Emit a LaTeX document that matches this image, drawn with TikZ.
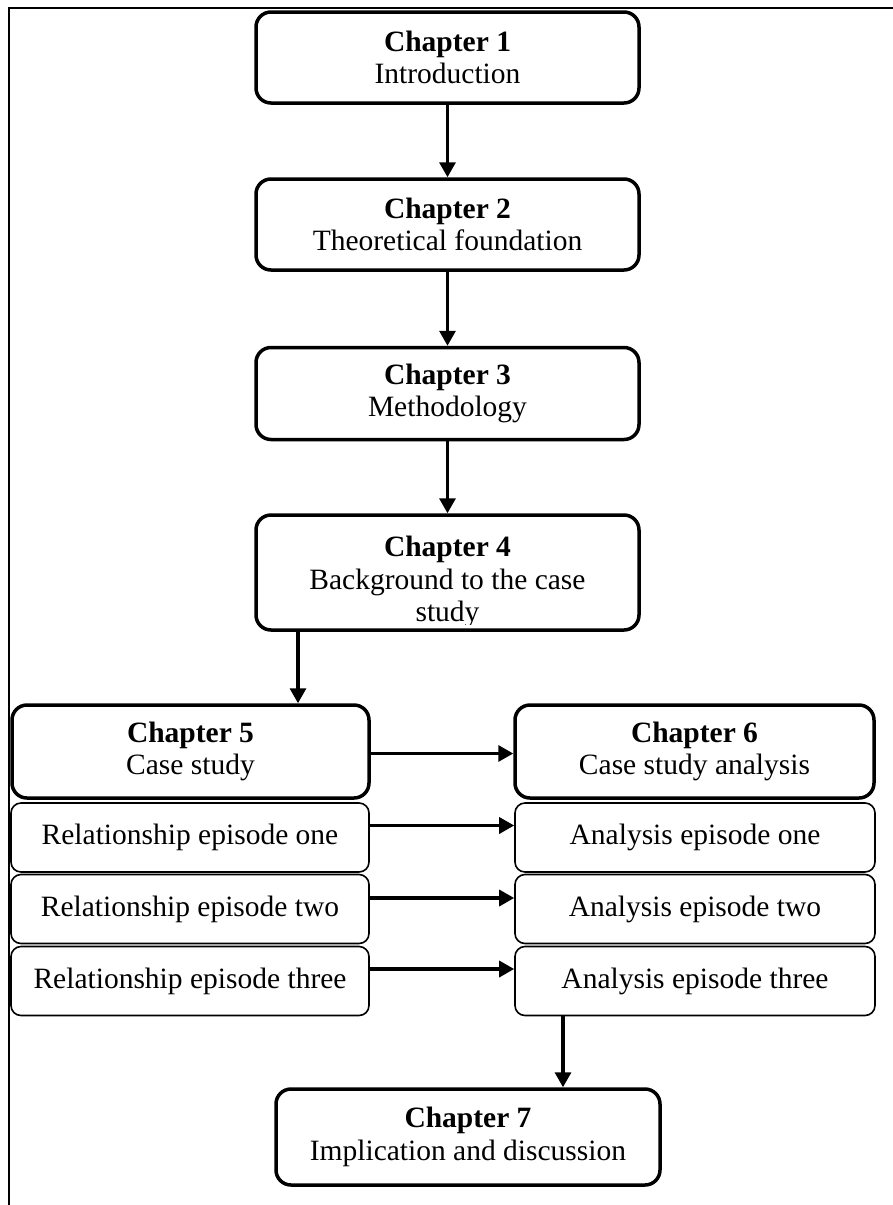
\documentclass[tikz,border=0pt]{standalone}
\usepackage{fontspec}
\setmainfont{Liberation Serif}
\usetikzlibrary{arrows.meta}
\tikzset{
  chbox/.style={draw, line width=3.5pt, rounded corners=15pt, align=center,
    inner sep=0pt, minimum width=383pt, minimum height=92pt,
    font=\fontsize{29.5}{32.5}\selectfont},
  epbox/.style={draw, line width=1.6pt, rounded corners=10pt, align=center,
    inner sep=0pt, minimum width=358pt, minimum height=69pt,
    font=\fontsize{29.5}{32.5}\selectfont},
  arr/.style={line width=3.3pt, -{Triangle[length=15pt,width=16pt]}},
  frameline/.style={line width=1.3pt}
}
\begin{document}
\begin{tikzpicture}[x=1pt, y=-1pt]
\useasboundingbox (0,0) rectangle (893,1205);

% page frame (left and top rules)
\coordinate (fb) at (9,1205);
\coordinate (fc) at (9,8);
\coordinate (fr) at (893,8);
\draw[frameline] (fb) -- (fc) -- (fr);

% main chain of chapters
\node[chbox, minimum height=91pt] (c1) at (447.5,57.5) {\textbf{Chapter 1}\\Introduction};
\node[chbox, minimum height=91pt] (c2) at (447.5,224.5) {\textbf{Chapter 2}\\Theoretical foundation};
\node[chbox] (c3) at (447.5,393.5) {\textbf{Chapter 3}\\Methodology};
\node[chbox, minimum height=115pt] (c4) at (447.5,572.5) {};
\begin{scope}
  \clip (254,513) rectangle (641,624);
  \node[anchor=base, align=center, inner sep=0pt,
        font=\fontsize{29.5}{32.5}\selectfont] (c4t) at (447.5,621.5)
        {\textbf{Chapter 4}\\Background to the case\\study};
\end{scope}

% case study column
\node[chbox, minimum width=357pt, minimum height=93pt] (c5) at (190.5,751.5) {\textbf{Chapter 5}\\Case study};
\node[epbox] (r1) at (190,837.5) {Relationship episode one};
\node[epbox] (r2) at (190,909) {Relationship episode two};
\node[epbox] (r3) at (190,981) {Relationship episode three};

% analysis column
\node[chbox, minimum width=359pt, minimum height=93pt] (c6) at (694.5,751.5) {\textbf{Chapter 6}\\Case study analysis};
\node[epbox, minimum width=360pt] (a1) at (695,837.5) {Analysis episode one};
\node[epbox, minimum width=360pt] (a2) at (695,909) {Analysis episode two};
\node[epbox, minimum width=360pt] (a3) at (695,981) {Analysis episode three};

% closing chapter
\node[chbox, minimum width=384pt, minimum height=96pt] (c7) at (468,1137) {\textbf{Chapter 7}\\Implication and discussion};

% connectors
\draw[arr] (c1) -- (c2);
\draw[arr] (c2) -- (c3);
\draw[arr] (c3) -- (c4);
\coordinate (x45) at (298,0);
\draw[arr] (c4.south -| x45) -- (c5.north -| x45);
\draw[arr] ([yshift=-2pt]c5.east) -- ([yshift=-2pt]c6.west);
\draw[arr] ([yshift=12pt]r1.east) -- ([yshift=12pt]a1.west);
\draw[arr] ([yshift=11pt]r2.east) -- ([yshift=11pt]a2.west);
\draw[arr] ([yshift=12pt]r3.east) -- ([yshift=12pt]a3.west);
\coordinate (x37) at (563,0);
\draw[arr] (a3.south -| x37) -- (c7.north -| x37);
\end{tikzpicture}
\end{document}
